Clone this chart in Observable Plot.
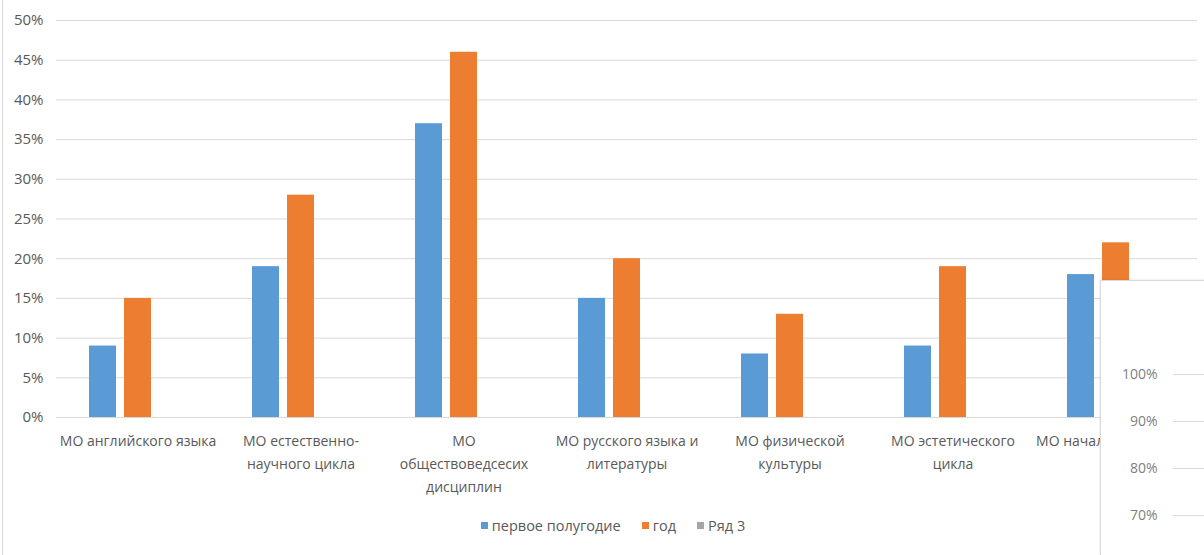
<!DOCTYPE html>
<html>
<head>
<meta charset="utf-8">
<script src="https://cdn.jsdelivr.net/npm/d3@7"></script>
<script src="https://cdn.jsdelivr.net/npm/@observablehq/plot@0.6"></script>
<style>
  html, body { margin: 0; padding: 0; background: #fff; overflow: hidden; }
  body { width: 1204px; height: 555px; position: relative; font-family: "Open Sans", sans-serif; }
  #frame { position: absolute; left: 2px; top: 0; width: 1px; height: 555px; background: #d9d9d9; }
  #chart { position: absolute; left: 0; top: 0; }
  #legend { position: absolute; top: 516px; left: 0; width: 1204px; padding-left: 22px; box-sizing: border-box;
            display: flex; justify-content: center; gap: 21px; font-size: 14.5px; color: #595959; }
  #legend .item { display: flex; align-items: center; gap: 4px; }
  #legend .sw { width: 7px; height: 7px; display: inline-block; }
  #overlay { position: absolute; left: 1100px; top: 280px; width: 104px; height: 275px; overflow: hidden;
             background: #fff; border-left: 1px solid #d9d9d9; border-top: 1px solid #d9d9d9;
             box-shadow: -1px -1px 2px rgba(0,0,0,0.06); }
</style>
</head>
<body>
<div id="frame"></div>
<div id="chart"></div>
<div id="legend"></div>
<div id="overlay"></div>
<script>
const categories = [
  "МО английского языка",
  "МО естественно-научного цикла",
  "МО обществоведсесих дисциплин",
  "МО русского языка и литературы",
  "МО физической культуры",
  "МО эстетического цикла",
  "МО начальных классов"
];
const categoryLabels = [
  "МО английского языка",
  "МО естественно-\nнаучного цикла",
  "МО\nобществоведсесих\nдисциплин",
  "МО русского языка и\nлитературы",
  "МО физической\nкультуры",
  "МО эстетического\nцикла",
  "МО начальных классов"
];
const seriesNames = ["первое полугодие", "год", "Ряд 3"];
const seriesColors = ["#5B9BD5", "#ED7D31", "#A5A5A5"];
const firstHalf = [9, 19, 37, 15, 8, 9, 18];
const fullYear = [15, 28, 46, 20, 13, 19, 22];
const yTicks = [0, 5, 10, 15, 20, 25, 30, 35, 40, 45, 50];
const overlayTicks = [60, 70, 80, 90, 100];

const data = [];
categories.forEach((c, i) => {
  data.push({category: c, series: seriesNames[0], value: firstHalf[i]});
  data.push({category: c, series: seriesNames[1], value: fullYear[i]});
});
const labelOf = new Map(categories.map((c, i) => [c, categoryLabels[i]]));

const chart = Plot.plot({
  width: 1204,
  height: 510,
  marginLeft: 55,
  marginRight: 6,
  marginTop: 20,
  marginBottom: 93,
  style: {fontFamily: "Open Sans, sans-serif", fontSize: "14px", color: "#595959", background: "transparent"},
  fx: {domain: categories, padding: 0, label: null, axis: null},
  x: {domain: seriesNames, paddingInner: 0.222, paddingOuter: 0.879, axis: null},
  y: {domain: [0, 50], ticks: yTicks, label: null, tickFormat: d => d + "%"},
  color: {domain: seriesNames, range: seriesColors},
  marks: [
    Plot.gridY(yTicks, {stroke: "#d9d9d9", strokeOpacity: 1}),
    Plot.axisY({ticks: yTicks, tickSize: 0, tickPadding: 13, label: null, tickFormat: d => d + "%", fontSize: 15}),
    Plot.axisFx({anchor: "bottom", tickSize: 0, tickPadding: 12, label: null, tickFormat: d => labelOf.get(d), lineHeight: 1.65, fontSize: 14}),
    Plot.barY(data, {fx: "category", x: "series", y: "value", fill: "series"})
  ]
});
document.getElementById("chart").appendChild(chart);

const legend = document.getElementById("legend");
seriesNames.forEach((s, i) => {
  const item = document.createElement("div");
  item.className = "item";
  const sw = document.createElement("span");
  sw.className = "sw";
  sw.style.background = seriesColors[i];
  const t = document.createElement("span");
  t.textContent = s;
  item.appendChild(sw);
  item.appendChild(t);
  legend.appendChild(item);
});

const overlay = Plot.plot({
  width: 104,
  height: 290,
  marginLeft: 72,
  marginRight: 0,
  marginTop: 0,
  marginBottom: 0,
  style: {fontFamily: "Open Sans, sans-serif", fontSize: "14px", color: "#7f7f7f", background: "transparent"},
  y: {domain: [58.1, 119.8], label: null},
  marks: [
    Plot.gridY(overlayTicks, {stroke: "#d9d9d9", strokeOpacity: 1}),
    Plot.axisY(overlayTicks, {tickSize: 0, tickPadding: 16, label: null, tickFormat: d => d + "%"})
  ]
});
document.getElementById("overlay").appendChild(overlay);
</script>
</body>
</html>
